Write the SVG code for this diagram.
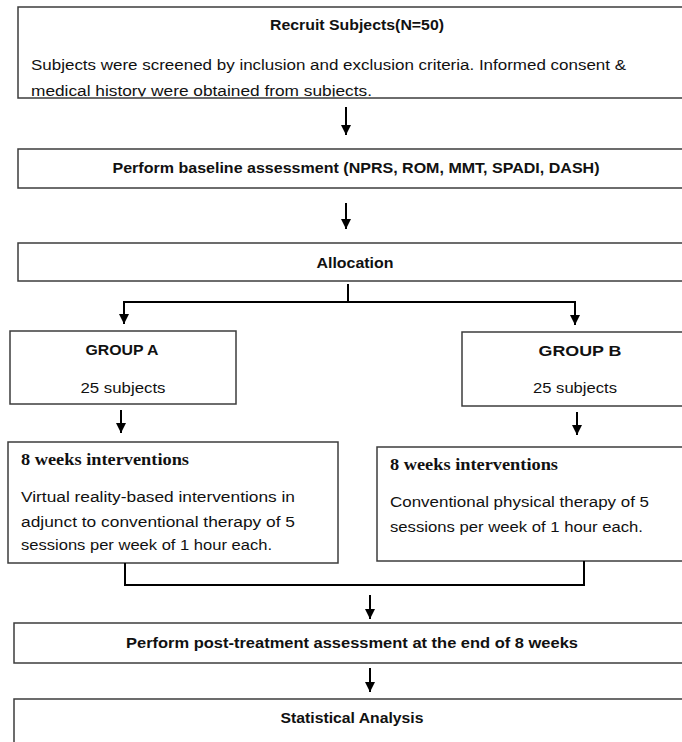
<svg xmlns="http://www.w3.org/2000/svg" width="682" height="742" viewBox="0 0 682 742">
<style>
.box{fill:#fff;stroke:#3c3c3c;stroke-width:1.5}
.t{font-family:"Liberation Sans",Arial,sans-serif;font-size:15.5px;fill:#111}
.b{font-weight:bold}
.c{text-anchor:middle}
.s{font-family:"Liberation Serif","Times New Roman",serif;font-size:16px;font-weight:bold;fill:#111}
.con{fill:none;stroke:#000;stroke-width:2}
</style>
<defs>
<marker id="ah" viewBox="0 0 10 10" refX="10" refY="5" markerWidth="5" markerHeight="5" orient="auto" markerUnits="strokeWidth">
<path d="M0,0 L10,5 L0,10 z" fill="#000"/>
</marker>
<clipPath id="clip1"><rect x="18" y="7" width="680" height="89.5"/></clipPath>
</defs>
<rect width="682" height="742" fill="#fff"/>
<g id="recruit">
<rect class="box" x="18" y="7" width="680" height="91"/>
<text class="t b c" x="357" y="30" textLength="174" lengthAdjust="spacingAndGlyphs">Recruit Subjects(N=50)</text>
<g clip-path="url(#clip1)">
<text class="t" x="31" y="70" textLength="595" lengthAdjust="spacingAndGlyphs">Subjects were screened by inclusion and exclusion criteria. Informed consent &amp;</text>
<text class="t" x="31" y="96" textLength="341" lengthAdjust="spacingAndGlyphs">medical history were obtained from subjects.</text>
</g>
</g>
<g id="baseline">
<rect class="box" x="18" y="149" width="680" height="39"/>
<text class="t b c" x="356" y="173" textLength="487" lengthAdjust="spacingAndGlyphs">Perform baseline assessment (NPRS, ROM, MMT, SPADI, DASH)</text>
</g>
<g id="allocation">
<rect class="box" x="18" y="243" width="680" height="38"/>
<text class="t b c" x="355" y="268" textLength="77" lengthAdjust="spacingAndGlyphs">Allocation</text>
</g>
<g id="groupA">
<rect class="box" x="10" y="331" width="226" height="73"/>
<text class="t b c" x="122" y="355" textLength="73" lengthAdjust="spacingAndGlyphs">GROUP A</text>
<text class="t c" x="123" y="393" textLength="85" lengthAdjust="spacingAndGlyphs">25 subjects</text>
</g>
<g id="groupB">
<rect class="box" x="462" y="332" width="236" height="74"/>
<text class="t b c" x="580" y="356" textLength="83" lengthAdjust="spacingAndGlyphs">GROUP B</text>
<text class="t c" x="575" y="393" textLength="84" lengthAdjust="spacingAndGlyphs">25 subjects</text>
</g>
<g id="interventionA">
<rect class="box" x="8" y="442" width="330" height="121"/>
<text class="s" x="21" y="465" textLength="168" lengthAdjust="spacingAndGlyphs">8 weeks interventions</text>
<text class="t" x="21" y="502" textLength="274" lengthAdjust="spacingAndGlyphs">Virtual reality-based interventions in</text>
<text class="t" x="21" y="527" textLength="274" lengthAdjust="spacingAndGlyphs">adjunct to conventional therapy of 5</text>
<text class="t" x="21" y="550" textLength="251" lengthAdjust="spacingAndGlyphs">sessions per week of 1 hour each.</text>
</g>
<g id="interventionB">
<rect class="box" x="377" y="447" width="321" height="114"/>
<text class="s" x="390" y="470" textLength="168" lengthAdjust="spacingAndGlyphs">8 weeks interventions</text>
<text class="t" x="390" y="507" textLength="259" lengthAdjust="spacingAndGlyphs">Conventional physical therapy of 5</text>
<text class="t" x="390" y="532" textLength="253" lengthAdjust="spacingAndGlyphs">sessions per week of 1 hour each.</text>
</g>
<g id="post">
<rect class="box" x="14" y="623" width="684" height="40"/>
<text class="t b c" x="352" y="648" textLength="452" lengthAdjust="spacingAndGlyphs">Perform post-treatment assessment at the end of 8 weeks</text>
</g>
<g id="stats">
<rect class="box" x="14" y="699" width="684" height="60"/>
<text class="t b c" x="352" y="723" textLength="143" lengthAdjust="spacingAndGlyphs">Statistical Analysis</text>
</g>
<g id="connectors">
<line class="con" x1="346" y1="107" x2="346" y2="135" marker-end="url(#ah)"/>
<line class="con" x1="346" y1="203" x2="346" y2="229" marker-end="url(#ah)"/>
<line class="con" x1="348" y1="284" x2="348" y2="301"/>
<polyline class="con" points="124,324 124,302 575,302 575,325"/>
<line class="con" x1="124" y1="302" x2="124" y2="324" marker-end="url(#ah)"/>
<line class="con" x1="575" y1="302" x2="575" y2="325" marker-end="url(#ah)"/>
<line class="con" x1="121" y1="410" x2="121" y2="433" marker-end="url(#ah)"/>
<line class="con" x1="577" y1="412" x2="577" y2="435" marker-end="url(#ah)"/>
<polyline class="con" points="125,563 125,585 584,585 584,561"/>
<line class="con" x1="370" y1="595" x2="370" y2="619" marker-end="url(#ah)"/>
<line class="con" x1="370" y1="668" x2="370" y2="692" marker-end="url(#ah)"/>
</g>
</svg>
